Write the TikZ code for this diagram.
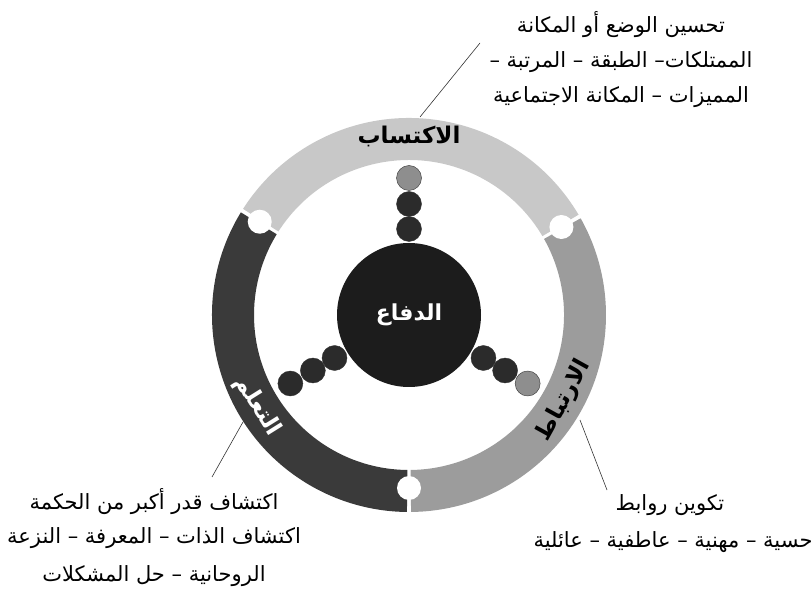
\documentclass[tikz,border=0pt]{standalone}
\usepackage{fontspec}
\newfontfamily\arabicfont[Script=Arabic]{DejaVu Sans}
\TeXXeTstate=1
\usetikzlibrary{calc}
\definecolor{seglight}{HTML}{C8C8C8}
\definecolor{segmid}{HTML}{9C9C9C}
\definecolor{segdark}{HTML}{3A3A3A}
\definecolor{corec}{HTML}{1C1C1C}
\definecolor{balldark}{HTML}{2B2B2B}
\definecolor{ballgray}{HTML}{8E8E8E}
\newcommand\artxt[1]{{\arabicfont\beginR #1\endR}}
\newcommand\ringseg[3]{%
  \fill[#3] ($(C)+(#1:197pt)$) arc[start angle=#1,end angle=#2,radius=197pt]
    -- ($(C)+(#2:155pt)$) arc[start angle=#2,end angle=#1,radius=155pt] -- cycle;}
\begin{document}
\begin{tikzpicture}[x=1pt,y=1pt,
  ball/.style={circle,inner sep=0pt,minimum size=25pt,draw=black!80,line width=0.4pt},
  notch/.style={circle,fill=white,inner sep=0pt,minimum size=24pt},
  desc/.style={font=\fontsize{21}{24}\selectfont,inner sep=0pt,anchor=center},
  seglabel/.style={font=\fontsize{23}{26}\selectfont\bfseries,inner sep=0pt},
  leader/.style={draw=black!80,line width=0.6pt}]
\useasboundingbox (0,0) rectangle (812,606);
\coordinate (C) at (409,291);
% ring segments
\ringseg{30.6}{147.4}{seglight}
\ringseg{148.6}{269.4}{segdark}
\ringseg{-89.4}{29.4}{segmid}
% notches
\node[notch] (n1) at ($(C)+(148:176pt)$) {};
\node[notch] (n2) at ($(C)+(30:176pt)$) {};
\node[notch] (n3) at ($(C)+(270:173pt)$) {};
% spokes
\node[ball,fill=balldark] (a1) at ($(C)+(90:86pt)$) {};
\node[ball,fill=balldark] (a2) at ($(C)+(90:111pt)$) {};
\node[ball,fill=ballgray] (a3) at ($(C)+(90:137pt)$) {};
\node[ball,fill=balldark] (b1) at ($(C)+(-30:86pt)$) {};
\node[ball,fill=balldark] (b2) at ($(C)+(-30:111pt)$) {};
\node[ball,fill=ballgray] (b3) at ($(C)+(-30:137pt)$) {};
\node[ball,fill=balldark] (c1) at ($(C)+(210:86pt)$) {};
\node[ball,fill=balldark] (c2) at ($(C)+(210:111pt)$) {};
\node[ball,fill=balldark] (c3) at ($(C)+(210:137pt)$) {};
% core
\node[circle,fill=corec,minimum size=144pt,inner sep=0pt,text=white,
  font=\fontsize{22}{24}\selectfont\bfseries] (core) at (C) {\artxt{الدفاع}};
% ring labels
\node[seglabel] (lacq) at ($(C)+(90:179pt)$) {\artxt{الاكتساب}};
\node[seglabel,rotate=61] (lrel) at ($(C)+(-29:177pt)$) {\artxt{الارتباط}};
\node[seglabel,rotate=-58,text=white] (llrn) at ($(C)+(211:177pt)$) {\artxt{التعلم}};
% top text
\node[desc] (t1) at (621,581) {\artxt{تحسين الوضع أو المكانة}};
\node[desc] (t2) at (621,544) {\artxt{الممتلكات– الطبقة – المرتبة –}};
\node[desc] (t3) at (621,509) {\artxt{المميزات – المكانة الاجتماعية}};
% bottom right text
\node[desc] (r1) at (670,101) {\artxt{تكوين روابط}};
\node[desc] (r2) at (673,64) {\artxt{حسية – مهنية – عاطفية – عائلية}};
% bottom left text
\node[desc] (l1) at (154,104) {\artxt{اكتشاف قدر أكبر من الحكمة}};
\node[desc] (l2) at (154,68) {\artxt{اكتشاف الذات – المعرفة – النزعة}};
\node[desc] (l3) at (154,30) {\artxt{الروحانية – حل المشكلات}};
% leaders
\coordinate (p1) at (480,563);
\coordinate (q1) at (420,489);
\coordinate (p2) at (580,186);
\coordinate (q2) at (607,116);
\coordinate (p3) at (243,184);
\coordinate (q3) at (212,129);
\draw[leader] (p1) -- (q1);
\draw[leader] (p2) -- (q2);
\draw[leader] (p3) -- (q3);
\end{tikzpicture}
\end{document}
